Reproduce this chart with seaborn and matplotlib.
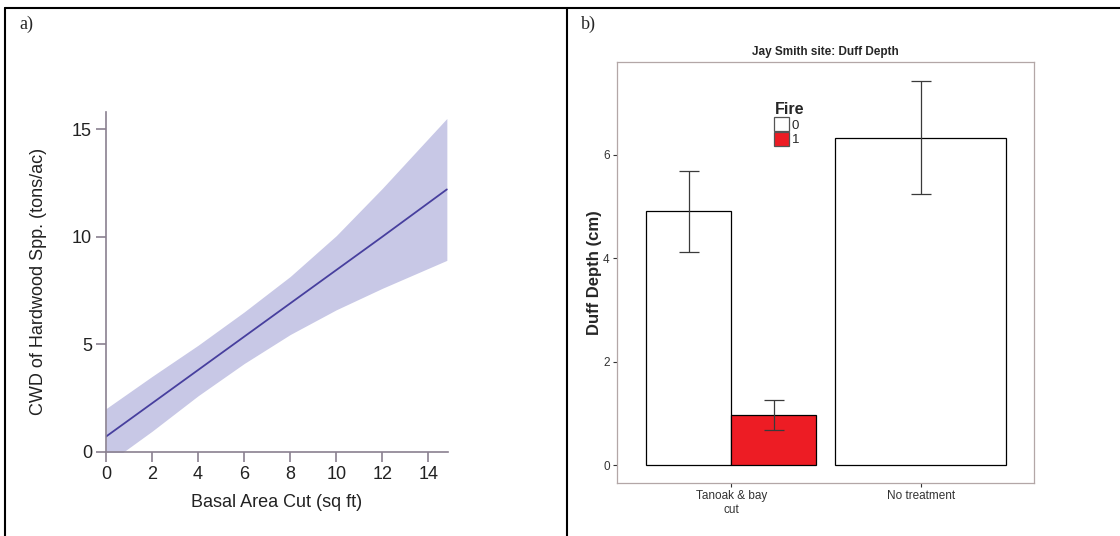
import numpy as np
import pandas as pd
import matplotlib
matplotlib.use('Agg')
import matplotlib.pyplot as plt
from matplotlib.lines import Line2D
import seaborn as sns

# --- panel a: fitted CWD vs basal area cut ---
basal_cut = [0, 2, 4, 6, 8, 10, 12, 14.8]
cwd_fit = [0.7, 2.25, 3.8, 5.35, 6.9, 8.45, 10.0, 12.2]
cwd_upper = [2.0, 3.5, 4.95, 6.5, 8.15, 10.05, 12.25, 15.5]
cwd_lower = [-0.6, 0.95, 2.6, 4.1, 5.45, 6.6, 7.6, 8.9]

# --- panel b: duff depth at Jay Smith site ---
treatments = ['Tanoak & bay\ncut', 'Tanoak & bay\ncut', 'No treatment']
fire = ['0', '1', '0']
duff_mean = [4.91, 0.97, 6.33]
duff_low = [4.13, 0.69, 5.25]
duff_high = [5.69, 1.27, 7.43]
treat_order = ['Tanoak & bay\ncut', 'No treatment']
fire_colors = {'0': 'white', '1': '#ed1c24'}

sns.set_style('white')
plt.rcParams['font.family'] = ['Liberation Sans', 'DejaVu Sans']

fig = plt.figure(figsize=(11.2, 5.36), dpi=100)

# table style borders
fig.add_artist(Line2D([0.0045, 1.0], [0.986, 0.986], color='black', lw=1.5))
fig.add_artist(Line2D([0.0045, 0.0045], [0.0, 0.986], color='black', lw=1.5))
fig.add_artist(Line2D([0.506, 0.506], [0.0, 0.986], color='black', lw=1.5))
fig.text(0.017, 0.955, 'a)', fontsize=13, family='Liberation Serif', va='center')
fig.text(0.519, 0.955, 'b)', fontsize=13, family='Liberation Serif', va='center')

# --- a) ---
ax1 = fig.add_axes([0.0946, 0.1573, 0.3054, 0.6337])
ax1.fill_between(basal_cut, cwd_lower, cwd_upper, color='#c8c8e6', lw=0)
sns.lineplot(x=basal_cut, y=cwd_fit, ax=ax1, color='#473f9e', lw=1.3)
ax1.set_xlim(0, 14.85)
ax1.set_ylim(0, 15.8)
ax1.set_xticks(range(0, 15, 2))
ax1.set_yticks([0, 5, 10, 15])
for s in ['top', 'right']:
    ax1.spines[s].set_visible(False)
for s in ['left', 'bottom']:
    ax1.spines[s].set_color('#8a8090')
    ax1.spines[s].set_linewidth(1.2)
ax1.tick_params(axis='both', direction='out', length=7, width=1.2, color='#8a8090',
                labelsize=13, labelcolor='#222222', pad=3, left=True, bottom=True)
ax1.set_xlabel('Basal Area Cut (sq ft)', fontsize=13, color='#222222', labelpad=8)
ax1.set_ylabel('CWD of Hardwood Spp. (tons/ac)', fontsize=13, color='#222222', labelpad=18)

# --- b) ---
ax2 = fig.add_axes([0.5506, 0.0983, 0.3729, 0.7855])
df = pd.DataFrame({'treatment': treatments, 'Fire': fire, 'duff': duff_mean,
                   'low': duff_low, 'high': duff_high})
tan = df[df['treatment'] == treat_order[0]]
nt = df[df['treatment'] == treat_order[1]]
sns.barplot(data=tan, x='treatment', y='duff', hue='Fire', order=treat_order,
            hue_order=['0', '1'], palette=fire_colors, width=0.9, errorbar=None,
            saturation=1, edgecolor='black', linewidth=0.9, ax=ax2)
sns.barplot(data=nt, x='treatment', y='duff', order=treat_order, color='white',
            width=0.9, errorbar=None, saturation=1, edgecolor='black',
            linewidth=0.9, ax=ax2)

# error bars at the bar centres
bars = [p for p in ax2.patches if p.get_height() > 0]
for p in bars:
    cx = p.get_x() + p.get_width() / 2
    h = p.get_height()
    row = df.iloc[int(np.argmin(np.abs(df['duff'] - h)))]
    ax2.errorbar(cx, h, yerr=[[h - row['low']], [row['high'] - h]], fmt='none',
                 ecolor='#3a3a3a', elinewidth=0.9, capsize=7, capthick=0.9)

ax2.set_xlim(-0.605, 1.6)
ax2.set_ylim(-0.35, 7.79)
ax2.set_yticks([0, 2, 4, 6])
for s in ax2.spines.values():
    s.set_visible(True)
    s.set_color('#b3a7a7')
    s.set_linewidth(0.9)
ax2.tick_params(axis='both', direction='out', length=3, width=0.8, color='#333333',
                labelsize=8.5, labelcolor='#333333', pad=2, left=True, bottom=True)
ax2.set_xlabel('')
ax2.set_ylabel('Duff Depth (cm)', fontsize=12, fontweight='bold', labelpad=1)
ax2.set_title('Jay Smith site: Duff Depth', fontsize=8.5, fontweight='bold', pad=5)

handles, labels = ax2.get_legend_handles_labels()
leg = ax2.legend(handles[:2], labels[:2], title='Fire', loc='upper left',
                 bbox_to_anchor=(0.362, 0.922), frameon=False, fontsize=9.5,
                 handlelength=1.1, handleheight=1.2, handletextpad=0.2,
                 labelspacing=0.05, borderpad=0, alignment='left',
                 title_fontproperties={'weight': 'bold', 'size': 11.5})
for h in leg.legend_handles:
    h.set_edgecolor('#555555')

fig.savefig('out.png', dpi=100)
